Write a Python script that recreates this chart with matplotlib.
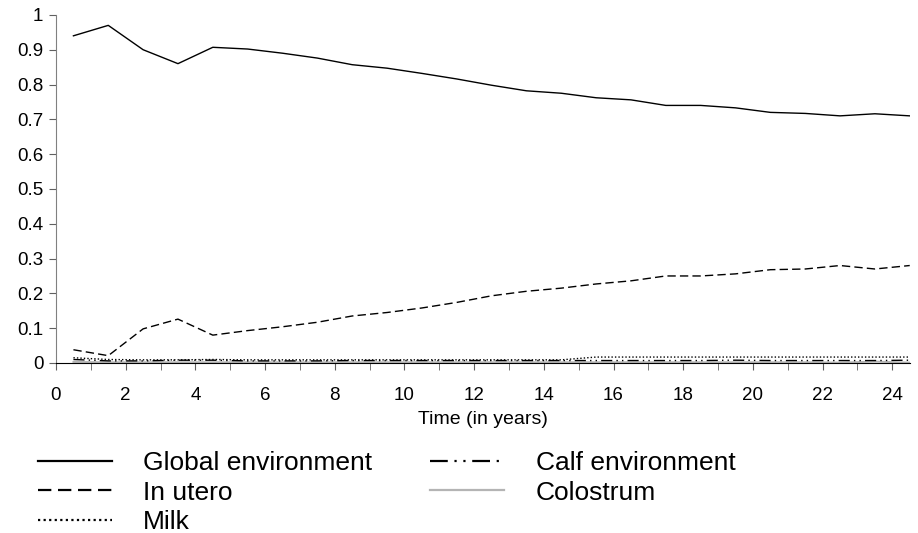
import matplotlib.pyplot as plt
import numpy as np

plt.rcParams['font.family'] = ['Liberation Sans', 'DejaVu Sans']

# yearly mid-points
years = np.arange(0.5, 25, 1.0)

global_env = [0.94, 0.97, 0.90, 0.86, 0.907, 0.902, 0.89, 0.876, 0.857, 0.847,
              0.832, 0.816, 0.798, 0.782, 0.775, 0.762, 0.756, 0.740, 0.740,
              0.733, 0.720, 0.717, 0.710, 0.716, 0.710]
in_utero = [0.038, 0.021, 0.098, 0.126, 0.080, 0.093, 0.104, 0.117, 0.135, 0.145,
            0.158, 0.174, 0.193, 0.206, 0.215, 0.227, 0.236, 0.250, 0.250,
            0.256, 0.268, 0.270, 0.280, 0.270, 0.280]
milk = [0.015, 0.010, 0.009, 0.009, 0.010, 0.009, 0.009, 0.009, 0.009, 0.009,
        0.009, 0.009, 0.009, 0.009, 0.009, 0.017, 0.017, 0.017, 0.017,
        0.017, 0.017, 0.017, 0.017, 0.017, 0.017]
calf_env = [0.010, 0.006, 0.006, 0.008, 0.008, 0.006, 0.006, 0.006, 0.007, 0.007,
            0.007, 0.007, 0.007, 0.007, 0.007, 0.007, 0.007, 0.007, 0.007,
            0.008, 0.007, 0.007, 0.007, 0.007, 0.008]
colostrum = [0.003, 0.002, 0.002, 0.002, 0.002, 0.002, 0.002, 0.002, 0.002, 0.002,
             0.002, 0.002, 0.002, 0.002, 0.002, 0.002, 0.002, 0.002, 0.002,
             0.002, 0.002, 0.002, 0.001, 0.004, 0.001]

fig = plt.figure(figsize=(9.18, 5.33), dpi=100)
ax = fig.add_axes([0.061, 0.319, 0.93, 0.653])

ax.plot(years, colostrum, color='#b4b4b4', lw=1.4, label='Colostrum')
ax.plot(years, calf_env, color='black', lw=1.0,
        linestyle=(0, (8, 3, 1, 3, 1, 3)), label='Calf environment')
ax.plot(years, milk, color='black', lw=1.0, linestyle=(0, (1, 1.5)), label='Milk')
ax.plot(years, in_utero, color='black', lw=1.0, linestyle=(0, (6, 3)), label='In utero')
ax.plot(years, global_env, color='black', lw=1.0, label='Global environment')

ax.set_xlim(0, 24.5)
ax.set_ylim(0, 1)
ax.set_xticks(np.arange(0, 25, 2))
ax.set_xticks(np.arange(0, 25, 1), minor=True)
ax.set_yticks(np.arange(0, 1.01, 0.1))
ax.set_yticklabels(['0', '0.1', '0.2', '0.3', '0.4', '0.5', '0.6', '0.7', '0.8', '0.9', '1'])

for side in ('top', 'right'):
    ax.spines[side].set_visible(False)
ax.spines['left'].set_color('#808080')
ax.spines['bottom'].set_color('black')
ax.tick_params(axis='both', which='both', color='#606060', labelsize=13.5, length=5)
ax.tick_params(axis='x', pad=12)
ax.tick_params(axis='y', pad=4)
ax.set_xlabel('Time (in years)', fontsize=14, labelpad=5)

handles, labels = ax.get_legend_handles_labels()
order = ['Global environment', 'In utero', 'Milk', 'Calf environment', 'Colostrum']
lookup = dict(zip(labels, handles))
leg = fig.legend([lookup[k] for k in order], order, ncol=2, frameon=False,
                 loc='upper left', bbox_to_anchor=(0.041, 0.153), fontsize=19,
                 handlelength=2.8, handletextpad=1.2, columnspacing=2.2,
                 labelspacing=0.2, borderaxespad=0, borderpad=0)
for line in leg.get_lines():
    line.set_linewidth(1.6)

fig.savefig('out.png', dpi=100)
